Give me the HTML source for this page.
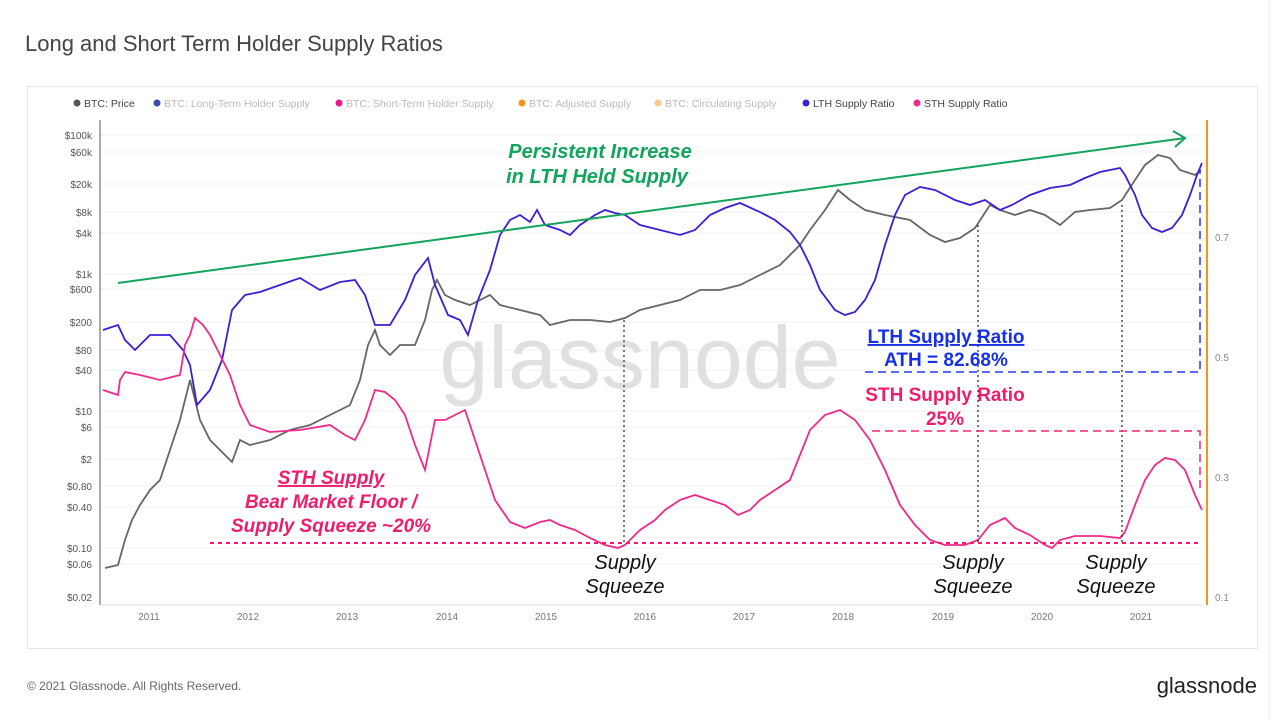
<!DOCTYPE html>
<html><head><meta charset="utf-8"><style>
body{margin:0;width:1280px;height:720px;background:#fff;font-family:"Liberation Sans",sans-serif;overflow:hidden}
</style></head><body>
<svg width="1280" height="720" xmlns="http://www.w3.org/2000/svg" font-family="Liberation Sans, sans-serif">
<rect x="0" y="0" width="1280" height="720" fill="#fff"/>
<line x1="1269" y1="0" x2="1269" y2="720" stroke="#eee"/>
<text x="25" y="51" font-size="22" fill="#444">Long and Short Term Holder Supply Ratios</text>
<rect x="27.5" y="86.5" width="1230" height="562" fill="none" stroke="#e6e6e6"/>
<g font-size="10.5" fill="#bbb">
<circle cx="77" cy="103" r="3.5" fill="#555"/><text x="84" y="107" fill="#444">BTC: Price</text>
<circle cx="157" cy="103" r="3.5" fill="#3a4aa8"/><text x="164" y="107">BTC: Long-Term Holder Supply</text>
<circle cx="339" cy="103" r="3.5" fill="#f0148c"/><text x="346" y="107">BTC: Short-Term Holder Supply</text>
<circle cx="522" cy="103" r="3.5" fill="#f7931a"/><text x="529" y="107">BTC: Adjusted Supply</text>
<circle cx="658" cy="103" r="3.5" fill="#f9c88a"/><text x="665" y="107">BTC: Circulating Supply</text>
<circle cx="806" cy="103" r="3.5" fill="#3b1fd6"/><text x="813" y="107" fill="#444">LTH Supply Ratio</text>
<circle cx="917" cy="103" r="3.5" fill="#ee2a8a"/><text x="924" y="107" fill="#444">STH Supply Ratio</text>
</g>
<g stroke="#f1f1f1">
<line x1="100" y1="135" x2="1202" y2="135"/><line x1="100" y1="152" x2="1202" y2="152"/><line x1="100" y1="184" x2="1202" y2="184"/><line x1="100" y1="212" x2="1202" y2="212"/><line x1="100" y1="233" x2="1202" y2="233"/><line x1="100" y1="274" x2="1202" y2="274"/><line x1="100" y1="289" x2="1202" y2="289"/><line x1="100" y1="322" x2="1202" y2="322"/><line x1="100" y1="350" x2="1202" y2="350"/><line x1="100" y1="370" x2="1202" y2="370"/><line x1="100" y1="411" x2="1202" y2="411"/><line x1="100" y1="427" x2="1202" y2="427"/><line x1="100" y1="459" x2="1202" y2="459"/><line x1="100" y1="486" x2="1202" y2="486"/><line x1="100" y1="507" x2="1202" y2="507"/><line x1="100" y1="548" x2="1202" y2="548"/><line x1="100" y1="564" x2="1202" y2="564"/>
</g>
<line x1="100" y1="120" x2="100" y2="605" stroke="#555" stroke-width="1"/>
<line x1="100" y1="605" x2="1202" y2="605" stroke="#ddd"/>
<line x1="1207" y1="120" x2="1207" y2="605" stroke="#f7931a" stroke-width="2"/>
<g font-size="10" fill="#555" text-anchor="end">
<text x="92" y="139">$100k</text><text x="92" y="156">$60k</text><text x="92" y="188">$20k</text><text x="92" y="216">$8k</text><text x="92" y="237">$4k</text><text x="92" y="278">$1k</text><text x="92" y="293">$600</text><text x="92" y="326">$200</text><text x="92" y="354">$80</text><text x="92" y="374">$40</text><text x="92" y="415">$10</text><text x="92" y="431">$6</text><text x="92" y="463">$2</text><text x="92" y="490">$0.80</text><text x="92" y="511">$0.40</text><text x="92" y="552">$0.10</text><text x="92" y="568">$0.06</text><text x="92" y="601">$0.02</text>
</g>
<g font-size="10" fill="#888"><text x="1215" y="241">0.7</text><text x="1215" y="361">0.5</text><text x="1215" y="481">0.3</text><text x="1215" y="601">0.1</text></g>
<g font-size="10" fill="#777" text-anchor="middle">
<text x="149" y="620">2011</text><text x="248" y="620">2012</text><text x="347" y="620">2013</text><text x="447" y="620">2014</text><text x="546" y="620">2015</text><text x="645" y="620">2016</text><text x="744" y="620">2017</text><text x="843" y="620">2018</text><text x="943" y="620">2019</text><text x="1042" y="620">2020</text><text x="1141" y="620">2021</text>
</g>
<text x="640" y="388" font-size="88" fill="#e0e0e0" text-anchor="middle">glassnode</text>
<polyline fill="none" stroke="#666" stroke-width="1.8" points="105,568 118,565 125,540 132,520 140,505 150,490 160,480 170,450 180,420 190,380 200,420 210,440 225,455 232,462 240,440 250,445 270,440 290,430 310,425 330,415 350,405 360,380 368,345 375,330 380,345 390,355 400,345 415,345 425,320 432,290 437,280 445,295 455,300 470,305 490,295 500,305 520,310 540,315 550,325 570,320 590,320 610,322 625,318 640,310 660,305 680,300 700,290 720,290 740,285 760,275 780,265 800,245 810,230 825,210 838,190 850,200 865,210 885,215 910,220 930,235 945,242 960,238 975,228 990,205 1000,210 1015,215 1030,210 1045,215 1060,225 1075,212 1090,210 1110,208 1122,200 1135,180 1145,165 1158,155 1170,158 1180,170 1195,175 1201,170"/>
<polyline fill="none" stroke="#3b1fd6" stroke-width="1.8" points="103,330 118,325 125,340 135,350 150,335 170,335 183,350 190,365 197,405 210,390 222,360 232,310 245,295 260,292 280,285 300,278 320,290 340,282 355,280 365,295 375,325 390,325 405,300 415,275 428,258 435,285 448,315 460,320 468,335 478,300 490,270 500,235 510,220 520,215 530,222 537,210 545,225 560,230 570,235 580,225 595,215 605,210 615,213 625,215 640,225 660,230 680,235 695,230 710,215 725,208 740,203 760,212 775,220 790,232 800,245 810,265 820,290 835,310 845,315 855,312 865,300 875,280 885,245 895,215 905,195 920,187 935,190 955,200 970,205 985,200 1000,210 1012,205 1030,195 1050,188 1070,185 1085,178 1100,172 1120,168 1125,175 1135,195 1142,215 1152,228 1162,232 1172,228 1182,215 1190,195 1197,175 1202,163"/>
<polyline fill="none" stroke="#ee2a8a" stroke-width="1.8" points="103,390 118,395 120,380 125,372 140,375 160,380 180,375 185,345 190,335 195,318 203,325 210,335 220,355 230,375 240,405 250,425 270,432 300,430 330,425 345,435 355,440 365,420 375,390 385,392 395,400 405,415 415,445 425,470 435,420 445,420 455,415 465,410 475,440 485,470 495,500 510,522 525,528 540,522 550,520 560,525 575,530 590,538 605,545 618,548 625,545 640,530 655,520 665,510 680,500 695,495 710,500 725,505 738,515 750,510 760,500 775,490 790,480 800,455 810,430 825,415 840,410 855,420 870,440 885,470 900,505 915,525 930,540 945,545 965,545 978,540 990,525 1005,518 1015,528 1030,535 1045,545 1052,548 1060,540 1075,536 1100,536 1120,538 1125,532 1135,505 1145,480 1155,465 1165,458 1175,460 1185,470 1195,495 1202,510"/>
<line x1="118" y1="283" x2="1185" y2="138" stroke="#12a45a" stroke-width="2"/>
<polyline points="1173,131 1185,138 1175,147" fill="none" stroke="#12a45a" stroke-width="2"/>
<g stroke="#222" stroke-width="1.2" stroke-dasharray="2,3">
<line x1="624" y1="320" x2="624" y2="545"/><line x1="978" y1="225" x2="978" y2="545"/><line x1="1122" y1="205" x2="1122" y2="545"/>
</g>
<line x1="210" y1="543" x2="1200" y2="543" stroke="#ee1c6a" stroke-width="2" stroke-dasharray="4,4"/>
<polyline points="865,372 1200,372 1200,170" fill="none" stroke="#2238f0" stroke-width="1.5" stroke-dasharray="8,5"/>
<polyline points="872,431 1200,431 1200,492" fill="none" stroke="#ee2a6a" stroke-width="1.5" stroke-dasharray="8,5"/>
<g font-weight="bold" font-style="italic" font-size="20" fill="#12a45a" text-anchor="middle">
<text x="600" y="158">Persistent Increase</text><text x="597" y="183">in LTH Held Supply</text></g>
<g font-weight="bold" font-style="italic" font-size="19" fill="#ee1c6a" text-anchor="middle">
<text x="331" y="484" text-decoration="underline">STH Supply</text><text x="331" y="508">Bear Market Floor /</text><text x="331" y="532">Supply Squeeze ~20%</text></g>
<g font-weight="bold" font-size="19" text-anchor="middle">
<text x="946" y="343" fill="#1530e8" text-decoration="underline">LTH Supply Ratio</text>
<text x="946" y="366" fill="#1530e8">ATH = 82.68%</text>
<text x="945" y="401" fill="#ee1c6a">STH Supply Ratio</text>
<text x="945" y="425" fill="#ee1c6a">25%</text></g>
<g font-style="italic" font-size="20" fill="#111" text-anchor="middle">
<text x="625" y="569">Supply</text><text x="625" y="593">Squeeze</text>
<text x="973" y="569">Supply</text><text x="973" y="593">Squeeze</text>
<text x="1116" y="569">Supply</text><text x="1116" y="593">Squeeze</text></g>
<text x="27" y="690" font-size="12" fill="#666">© 2021 Glassnode. All Rights Reserved.</text>
<text x="1257" y="693" font-size="22" fill="#222" text-anchor="end">glassnode</text>
</svg>
</body></html>
